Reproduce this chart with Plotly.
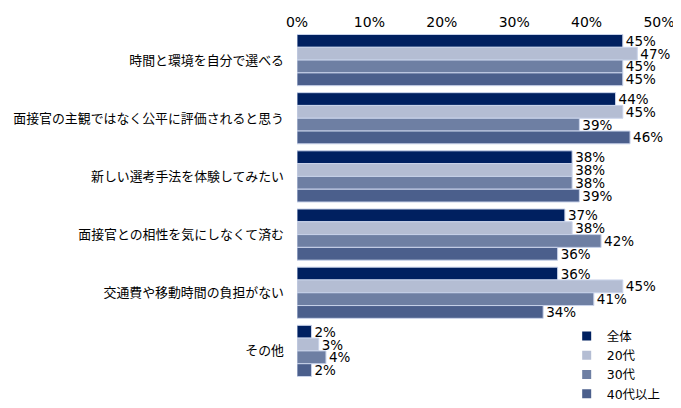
import plotly.graph_objects as go

categories = ["時間と環境を自分で選べる", "面接官の主観ではなく公平に評価されると思う", "新しい選考手法を体験してみたい",
              "面接官との相性を気にしなくて済む", "交通費や移動時間の負担がない", "その他"]
series_names = ["全体", "20代", "30代", "40代以上"]
v_all = [45, 44, 38, 37, 36, 2]
v_20 = [47, 45, 38, 38, 45, 3]
v_30 = [45, 39, 38, 42, 41, 4]
v_40 = [45, 46, 39, 36, 34, 2]
tick_vals = [0, 10, 20, 30, 40, 50]
tick_text = ["0%", "10%", "20%", "30%", "40%", "50%"]

colors = ["#002060", "#B4BDD3", "#6E7FA3", "#4B5F8C"]
font_family = "DejaVu Sans, Noto Sans CJK JP"

fig = go.Figure()
for name, vals, col in zip(series_names, [v_all, v_20, v_30, v_40], colors):
    fig.add_trace(go.Bar(
        y=categories, x=vals, name=name, orientation="h",
        marker=dict(color=col, line=dict(color="#C9D3EA", width=1)),
        text=[f"{v}%" for v in vals], textposition="outside",
        constraintext="none",
        textfont=dict(size=13.5, color="#000000", family=font_family),
        cliponaxis=False, showlegend=False,
    ))
for name, col in zip(series_names, colors):
    fig.add_trace(go.Scatter(
        x=[None], y=[None], mode="markers", name=name,
        marker=dict(symbol="square", size=9, color=col),
    ))

fig.update_layout(
    width=681, height=430,
    margin=dict(l=289, r=30, t=23, b=58),
    barmode="group", bargap=0.12, bargroupgap=0,
    plot_bgcolor="white", paper_bgcolor="white",
    font=dict(family=font_family, size=13, color="#000000"),
    xaxis=dict(range=[0, 50], side="top", tickvals=tick_vals, ticktext=tick_text,
               showgrid=False, zeroline=False, showline=False, ticks="",
               tickfont=dict(size=14), automargin=False),
    yaxis=dict(autorange="reversed", showgrid=False, showline=False, ticks="",
               ticklabelstandoff=12, tickfont=dict(size=12.9, family="Noto Sans CJK JP"),
               automargin=False),
    legend=dict(x=0.745, y=0.168, xanchor="left", yanchor="top",
                font=dict(size=12.5), tracegroupgap=0, itemwidth=30,
                bgcolor="rgba(0,0,0,0)"),
)

fig.write_html("out.html")
